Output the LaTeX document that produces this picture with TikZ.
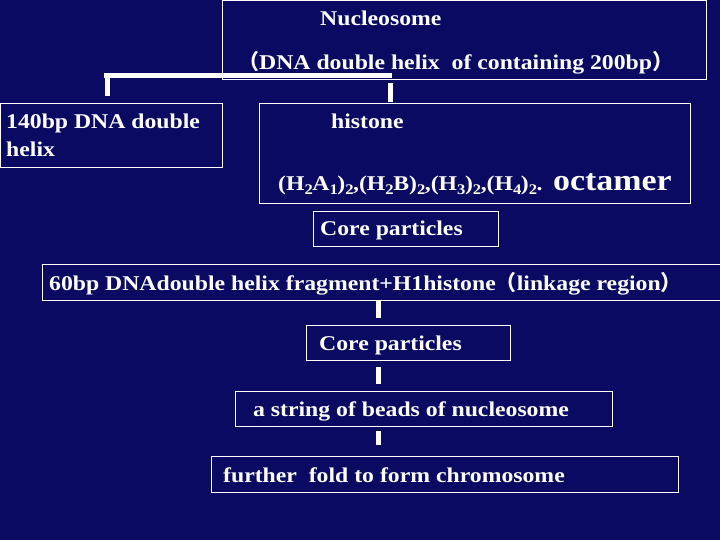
\documentclass[tikz,border=0pt]{standalone}
\usepackage{fontspec}
\setmainfont[FakeStretch=1.13]{Liberation Serif}
\newfontfamily\cjk{Noto Sans CJK SC}
\definecolor{slidebg}{HTML}{0A0A62}
\begin{document}
\begin{tikzpicture}[x=1pt,y=-1pt,
  box/.style={draw=white, line width=0.8pt},
  txt/.style={text=white, font=\bfseries\fontsize{21}{24}\selectfont, inner sep=0pt, anchor=base west},
  bar/.style={white, line width=5pt}]
\useasboundingbox[fill=slidebg] (0,0) rectangle (720,540);
%Boxes
\draw[box] (222,0) rectangle (706,79);
\draw[box] (0.5,103) rectangle (222,167);
\draw[box] (259,103) rectangle (690,203);
\draw[box] (313,211) rectangle (498,246);
\draw[box] (42,264) rectangle (722,300);
\draw[box] (306,325) rectangle (510,360);
\draw[box] (235,391) rectangle (612,426);
\draw[box] (211,456) rectangle (678,492);

%Texts
\node[txt] (nucleo) at (320,26) {Nucleosome};
\node[txt] (nucleo2) at (238,70) {{\cjk （}DNA double helix\ \ of containing 200bp{\cjk ）}};
\node[txt] (dna) at (6,129) {140bp DNA double};
\node[txt] (dna2) at (6,157) {helix};
\node[txt] (histone) at (331,129) {histone};
\node[txt] (formula) at (278,191) {(H$_{\mathbf 2}$A$_{\mathbf 1}$)$_{\mathbf 2}$,(H$_{\mathbf 2}$B)$_{\mathbf 2}$,(H$_{\mathbf 3}$)$_{\mathbf 2}$,(H$_{\mathbf 4}$)$_{\mathbf 2}$.};
\node[txt, font=\bfseries\fontsize{30}{33}\selectfont] (octamer) at (553,191) {octamer};
\node[txt] (core1) at (320,236) {Core particles};
\node[txt] (linker) at (49,290) {60bp DNAdouble helix fragment+H1histone{\cjk （}linkage region{\cjk ）}};
\node[txt] (core2) at (319,350) {Core particles};
\node[txt] (beads) at (253,416) {a string of beads of nucleosome};
\node[txt] (chromo) at (223,482) {further\ \ fold to form chromosome};

%Lines
\coordinate (barl) at (104,76);
\coordinate (barr) at (392,76);
\draw[bar] (barl) -- (barr);
\draw[bar] (107,78) -- (107,96);
\draw[bar] (390,83) -- (390,102);
\draw[bar] (378,300) -- (378,318);
\draw[bar] (378,367) -- (378,384);
\draw[bar] (378,431) -- (378,445);
\end{tikzpicture}
\end{document}
